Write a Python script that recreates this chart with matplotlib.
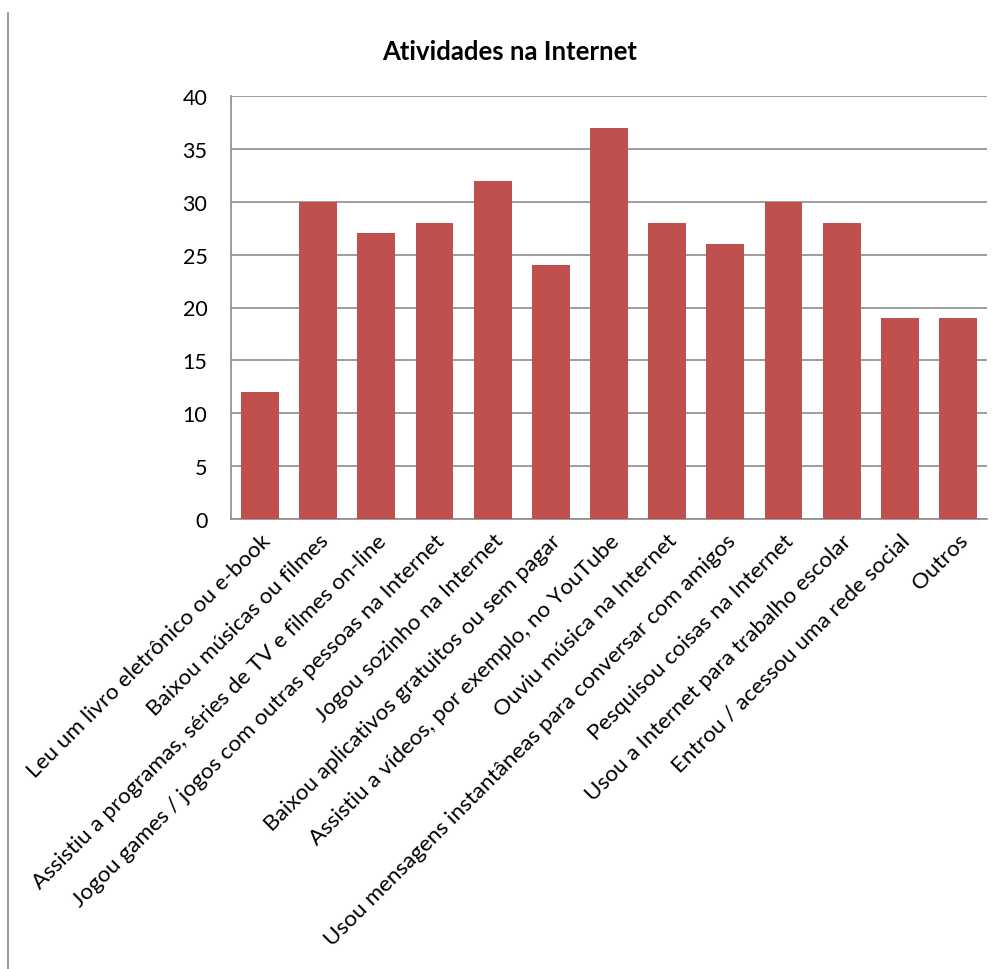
import matplotlib
matplotlib.use("Agg")
import matplotlib.pyplot as plt
from matplotlib.lines import Line2D

categories = [
    "Leu um livro eletrônico ou e-book",
    "Baixou músicas ou filmes",
    "Assistiu a programas, séries de TV e filmes on-line",
    "Jogou games / jogos com outras pessoas na Internet",
    "Jogou sozinho na Internet",
    "Baixou aplicativos gratuitos ou sem pagar",
    "Assistiu a vídeos, por exemplo, no YouTube",
    "Ouviu música na Internet",
    "Usou mensagens instantâneas para conversar com amigos",
    "Pesquisou coisas na Internet",
    "Usou a Internet para trabalho escolar",
    "Entrou / acessou uma rede social",
    "Outros",
]
values = [12, 30, 27, 28, 32, 24, 37, 28, 26, 30, 28, 19, 19]
yticks = [0, 5, 10, 15, 20, 25, 30, 35, 40]
title = "Atividades na Internet"

plt.rcParams['font.family'] = ['Lato', 'DejaVu Sans']

W, H = 1001, 970
fig = plt.figure(figsize=(W / 100, H / 100), dpi=100)
ax = fig.add_axes([231 / W, 1 - 520 / H, (987 - 231) / W, (520 - 97) / H])

x = list(range(len(categories)))
ax.bar(x, values, width=0.65, color='#C0504D', zorder=3)
ax.set_xlim(-0.5, len(categories) - 0.5)
ax.set_ylim(0, 40)
ax.set_yticks(yticks)
ax.set_yticklabels([str(v) for v in yticks], fontsize=15.5)
ax.tick_params(axis='y', length=0, pad=17)
ax.yaxis.grid(True, color='#8c8c8c', linewidth=1.2, zorder=0)
ax.set_xticks(x)
ax.set_xticklabels(categories, rotation=45, ha='right', rotation_mode='anchor', fontsize=16.2)
ax.tick_params(axis='x', length=0, pad=8)
for s in ['top', 'right']:
    ax.spines[s].set_visible(False)
for s in ['left', 'bottom']:
    ax.spines[s].set_color('#8c8c8c')
    ax.spines[s].set_linewidth(1.2)

fig.text(510 / W, 1 - 52 / H, title, ha='center', va='center', fontsize=18.5, fontweight='bold')
fig.add_artist(Line2D([8 / W, 8 / W], [0, 1 - 14 / H], color='#a0a0a0', linewidth=1.5, transform=fig.transFigure))

fig.savefig('out.png', dpi=100, facecolor='white')
